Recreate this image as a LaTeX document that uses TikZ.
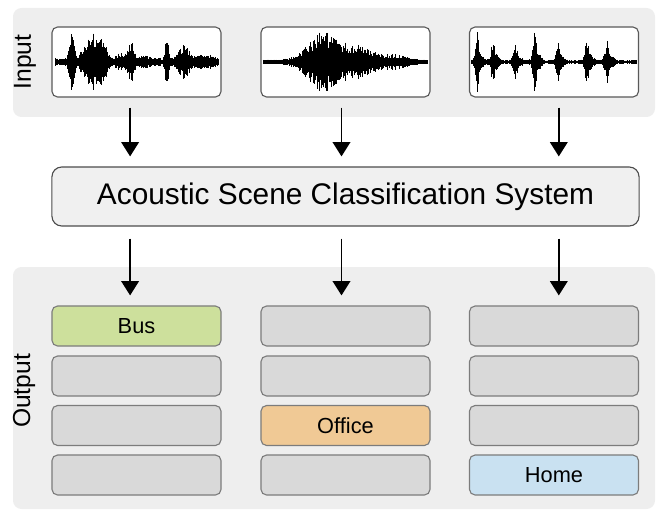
\documentclass[tikz,border=0pt]{standalone}
\usepackage{fontspec}
\setmainfont{Liberation Sans}
\usetikzlibrary{arrows.meta,positioning}
\definecolor{panelbg}{HTML}{EEEEEE}
\definecolor{sysfill}{HTML}{F0F0F0}
\definecolor{slotgray}{HTML}{D9D9D9}
\definecolor{slotedge}{HTML}{7C7C7C}
\definecolor{busgreen}{HTML}{CDE09C}
\definecolor{officeorange}{HTML}{F0C995}
\definecolor{homeblue}{HTML}{C9E1F1}
\definecolor{baseline}{HTML}{8FA3B5}
\tikzset{
  panel/.style={fill=panelbg, draw=none, rounded corners=6pt},
  wavebox/.style={draw=black!65, fill=white, line width=0.8pt, rounded corners=4pt,
                  minimum width=4.225cm, minimum height=1.75cm, inner sep=0pt},
  sysbox/.style={draw=black!70, fill=sysfill, line width=0.8pt, rounded corners=7pt,
                 minimum width=14.675cm, minimum height=1.475cm, inner sep=0pt,
                 font=\fontsize{21.2}{24}\selectfont},
  slot/.style={draw=slotedge, fill=slotgray, line width=0.8pt, rounded corners=4pt,
               minimum width=4.225cm, minimum height=1.0cm, inner sep=0pt,
               font=\fontsize{15.5}{17}\selectfont},
  sidelabel/.style={rotate=90, font=\fontsize{17.5}{19}\selectfont},
  arr/.style={-{Triangle[length=3.6mm,width=4.4mm]}, line width=1.4pt},
  arrin/.style={arr, shorten <=0.25cm, shorten >=0.25cm},
  arrout/.style={arr, shorten <=0.3cm, shorten >=0.25cm}}

% one recorded signal: left x, right x, centre y, envelope in \t
\newcommand{\drawwave}[4]{%
  \draw[line width=0.5pt, baseline] (#1,#3) -- (#2,#3);
  \foreach \t in {#1,#1.8,...,#2}{%
    \pgfmathsetmacro\amp{(0.45+0.55*rnd)*(#4)+0.8}
    \draw[line width=0.65pt] (\t,#3-\amp) -- (\t,#3+\amp);
  }}

\begin{document}
\begin{tikzpicture}[x=0.025cm, y=-0.025cm]
  \useasboundingbox (0,0) rectangle (658,512);
  \pgfmathsetseed{11}

  % the two grey bands
  \fill[panel] (13,8) rectangle (655,117);
  \fill[panel] (13,267) rectangle (655,509);
  \node[sidelabel] (inlab) at (25,62) {Input};
  \node[sidelabel] (outlab) at (24,391) {Output};

  % input recordings
  \node[wavebox] (wave1) at (136.5,62) {};
  \node[wavebox] (wave2) at (345.5,62) {};
  \node[wavebox] (wave3) at (554,62) {};
  \drawwave{55}{219}{62}{3+28*exp(-((\t-72)/3)^2)+27*exp(-((\t-92)/10)^2)
    +16*exp(-((\t-104)/4)^2)+6*exp(-((\t-120)/5)^2)+20*exp(-((\t-131)/4)^2)
    +4*exp(-((\t-145)/5)^2)+29*exp(-((\t-167)/2)^2)+15*exp(-((\t-184)/7)^2)
    +5*exp(-((\t-205)/8)^2)}
  \drawwave{263}{428}{62}{1.5+29*exp(-((\t-325)/22)^2)+13*exp(-((\t-362)/17)^2)
    +5*exp(-((\t-395)/15)^2)}
  \drawwave{471}{637}{62}{1+25*exp(-((\t-477)/2)^2)+7*exp(-((\t-479)/5)^2)
    +16*exp(-((\t-493)/2)^2)+7*exp(-((\t-495)/5)^2)
    +17*exp(-((\t-515)/2)^2)+7*exp(-((\t-517)/5)^2)
    +30*exp(-((\t-535)/2)^2)+8*exp(-((\t-537)/5)^2)
    +15*exp(-((\t-558)/2)^2)+6*exp(-((\t-560)/5)^2)
    +19*exp(-((\t-587)/2)^2)+7*exp(-((\t-589)/5)^2)
    +21*exp(-((\t-607)/2)^2)+7*exp(-((\t-609)/5)^2)}

  % classifier
  \node[sysbox] (sys) at (345.5,196.5) {Acoustic Scene Classification System};

  % predicted scenes, one column per recording
  \node[slot, fill=busgreen] (bus) at (136.5,326) {Bus};
  \node[slot] (s12) at (136.5,376) {};
  \node[slot] (s13) at (136.5,425.5) {};
  \node[slot] (s14) at (136.5,475) {};
  \node[slot] (s21) at (345.5,326) {};
  \node[slot] (s22) at (345.5,376) {};
  \node[slot, fill=officeorange] (office) at (345.5,425.5) {Office};
  \node[slot] (s24) at (345.5,475) {};
  \node[slot] (s31) at (554,326) {};
  \node[slot] (s32) at (554,376) {};
  \node[slot] (s33) at (554,425.5) {};
  \node[slot, fill=homeblue] (home) at (554,475) {Home};

  \draw[arrin] ([xshift=-0.16cm]wave1.south) -- ([xshift=-0.16cm]sys.north -| wave1.south);
  \draw[arrin] ([xshift=-0.1cm]wave2.south) -- ([xshift=-0.1cm]sys.north -| wave2.south);
  \draw[arrin] ([xshift=0.12cm]wave3.south) -- ([xshift=0.12cm]sys.north -| wave3.south);
  \draw[arrout] ([xshift=-0.16cm]sys.south -| bus.north) -- ([xshift=-0.16cm]bus.north);
  \draw[arrout] ([xshift=-0.1cm]sys.south -| s21.north) -- ([xshift=-0.1cm]s21.north);
  \draw[arrout] ([xshift=0.12cm]sys.south -| s31.north) -- ([xshift=0.12cm]s31.north);
\end{tikzpicture}
\end{document}
